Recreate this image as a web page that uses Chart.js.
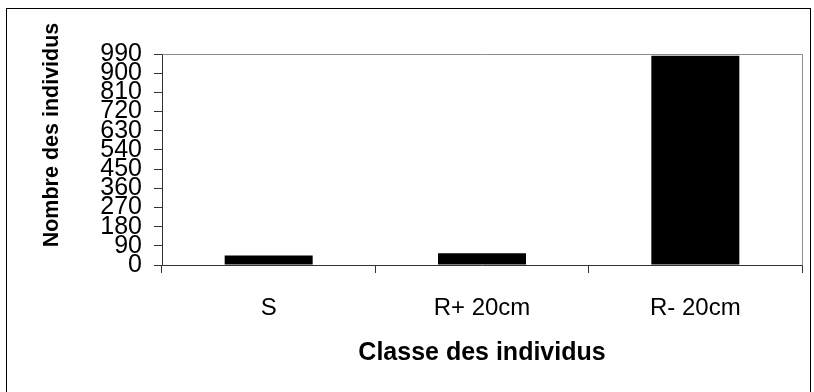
<!DOCTYPE html>
<html>
<head>
<meta charset="utf-8">
<script src="https://cdn.jsdelivr.net/npm/chart.js@4/dist/chart.umd.min.js"></script>
<style>
    html, body { margin: 0; padding: 0; background: #fff; }
    #wrap { position: relative; width: 814px; height: 392px; overflow: hidden; }
    #frame { position: absolute; left: 6px; top: 8px; width: 805px; height: 400px; border: 1px solid #000; box-sizing: border-box; pointer-events: none; }
    canvas { position: absolute; left: 0; top: 0; }
</style>
</head>
<body>
<div id="wrap">
    <canvas id="classChart" width="814" height="392"></canvas>
    <div id="frame"></div>
</div>
<script>
// Effectifs par classe
const categories = ['S', 'R+ 20cm', 'R- 20cm'];
const counts = [44, 55, 982];
const yTickValues = [0, 90, 180, 270, 360, 450, 540, 630, 720, 810, 900, 990];

const FONT = '"Liberation Sans", Arial, sans-serif';

// Cadre gris du haut et de droite autour de la zone de tracé
const plotFrame = {
    id: 'plotFrame',
    beforeDatasetsDraw(chart) {
        const { ctx, chartArea } = chart;
        ctx.save();
        ctx.strokeStyle = '#8c8c8c';
        ctx.lineWidth = 1;
        ctx.beginPath();
        ctx.moveTo(Math.round(chartArea.left) + 0.5, Math.round(chartArea.top) + 0.5);
        ctx.lineTo(Math.round(chartArea.right) + 0.5, Math.round(chartArea.top) + 0.5);
        ctx.lineTo(Math.round(chartArea.right) + 0.5, Math.round(chartArea.bottom) + 0.5);
        ctx.stroke();
        ctx.restore();
    }
};

// Titre vertical de l'axe des ordonnées
const yTitle = {
    id: 'yTitle',
    afterDraw(chart) {
        const { ctx } = chart;
        ctx.save();
        ctx.translate(52, 135);
        ctx.rotate(-Math.PI / 2);
        ctx.font = 'bold 21.5px ' + FONT;
        ctx.fillStyle = '#000';
        ctx.textAlign = 'center';
        ctx.textBaseline = 'middle';
        ctx.fillText('Nombre des individus', 0, 0);
        ctx.restore();
    }
};

const ctx = document.getElementById('classChart').getContext('2d');
new Chart(ctx, {
    type: 'bar',
    data: {
        labels: categories,
        datasets: [{
            data: counts,
            backgroundColor: '#000',
            borderWidth: 0,
            categoryPercentage: 1,
            barPercentage: 0.4125
        }]
    },
    options: {
        responsive: false,
        animation: false,
        devicePixelRatio: 1,
        layout: { padding: { left: 30, right: 12, top: 54, bottom: 24 } },
        plugins: {
            legend: { display: false },
            tooltip: { enabled: false }
        },
        scales: {
            x: {
                grid: {
                    offset: true,
                    drawOnChartArea: false,
                    tickLength: 8,
                    color: '#333'
                },
                border: { color: '#333', width: 1 },
                ticks: {
                    color: '#000',
                    padding: 21,
                    font: { family: FONT, size: 24 }
                },
                title: {
                    display: true,
                    text: 'Classe des individus',
                    color: '#000',
                    padding: { top: 0, bottom: 0 },
                    font: { family: FONT, size: 25, weight: 'bold' }
                },
                afterFit(scale) { scale.height = 103; }
            },
            y: {
                min: 0,
                max: 990,
                grid: {
                    drawOnChartArea: false,
                    tickLength: 8,
                    color: '#333'
                },
                border: { color: '#333', width: 1 },
                ticks: {
                    autoSkip: false,
                    color: '#000',
                    padding: 12,
                    font: { family: FONT, size: 25 }
                },
                afterBuildTicks(scale) {
                    scale.ticks = yTickValues.map(v => ({ value: v }));
                },
                afterFit(scale) { scale.width = 132; }
            }
        }
    },
    plugins: [plotFrame, yTitle]
});
</script>
</body>
</html>
